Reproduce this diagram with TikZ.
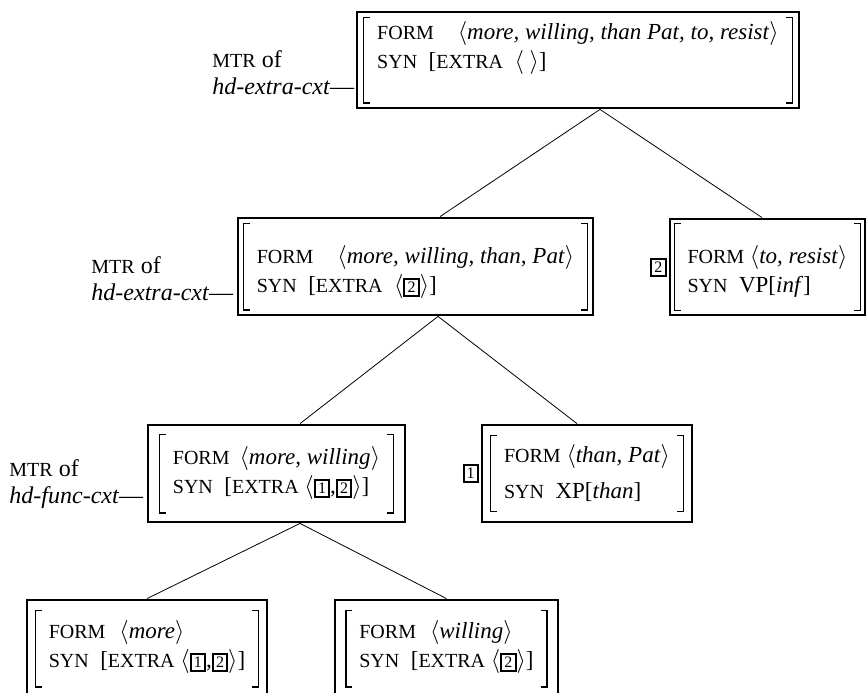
\documentclass[tikz,border=0pt]{standalone}
\usepackage{fontspec}
\setmainfont{Liberation Serif}
\usetikzlibrary{positioning}
\newcommand{\fsc}[1]{{\fontsize{10}{12}\selectfont #1}}
\newcommand{\tagbox}[1]{{\setlength{\fboxsep}{1.1pt}\setlength{\fboxrule}{1pt}\fbox{\fontsize{8}{9}\selectfont #1}}}
\newcommand{\lbrak}[1]{$\vcenter{\hbox{\vrule width 0.6pt height #1\kern-0.6pt%
  \vbox to #1{\hrule width 3.5pt height 0.6pt\vfill\hrule width 3.5pt height 0.6pt}}}$}
\newcommand{\rbrak}[1]{$\vcenter{\hbox{%
  \vbox to #1{\hrule width 3.5pt height 0.6pt\vfill\hrule width 3.5pt height 0.6pt}%
  \kern-0.6pt\vrule width 0.6pt height #1}}$}
\newcommand{\avm}[3]{\lbrak{#1}\hspace{3.5pt}%
  \raisebox{#2}{\begin{tabular}{@{}l@{}}#3\end{tabular}}%
  \hspace{3.5pt}\rbrak{#1}}
\begin{document}
\begin{tikzpicture}[x=0.5pt, y=-0.5pt,
    avmbox/.style={draw, line width=1.4pt, inner sep=0pt, font=\fontsize{11.5}{14.5}\selectfont},
    mtr/.style={anchor=east, inner sep=0pt, align=left, font=\fontsize{12}{13.5}\selectfont}]
  \useasboundingbox (0,0) rectangle (866,692);

  \node[avmbox, minimum width=221pt, minimum height=48pt] (top) at (578,60)
    {\avm{43.5pt}{5.75pt}{\fsc{FORM}\hspace{12pt}$\langle$\textit{more, willing, than Pat, to, resist}$\rangle$\\
      \fsc{SYN}\enskip[\fsc{EXTRA}\enskip$\langle\ \rangle$]}};
  \node[avmbox, minimum width=177.5pt, minimum height=48.5pt] (mid) at (415.5,266.5)
    {\avm{44pt}{-2.75pt}{\fsc{FORM}\hspace{12pt}$\langle$\textit{more, willing, than, Pat}$\rangle$\\
      \fsc{SYN}\enskip[\fsc{EXTRA}\enskip$\langle$\tagbox{2}$\rangle$]}};
  \node[avmbox, minimum width=97.5pt, minimum height=48pt] (inf) at (767.5,267)
    {\avm{44pt}{-2.75pt}{\fsc{FORM} $\langle$\textit{to, resist}$\rangle$\\
      \fsc{SYN}\enskip VP[\textit{inf}]}};
  \node[avmbox, minimum width=128.5pt, minimum height=48.5pt] (func) at (276.5,473.5)
    {\avm{40pt}{0pt}{\fsc{FORM}\hspace{5pt}$\langle$\textit{more, willing}$\rangle$\\
      \fsc{SYN}\enskip[\fsc{EXTRA} $\langle$\tagbox{1},\tagbox{2}$\rangle$]}};
  \node[avmbox, minimum width=105pt, minimum height=48.5pt] (than) at (587,473.5)
    {\avm{38.5pt}{-0.75pt}{\fsc{FORM} $\langle$\textit{than, Pat}$\rangle$\\[3.5pt]
      \fsc{SYN}\enskip XP[\textit{than}]}};
  \node[avmbox, minimum width=120pt, minimum height=48.5pt] (more) at (147,648.5)
    {\avm{39pt}{0.5pt}{\fsc{FORM}\hspace{7pt}$\langle$\textit{more}$\rangle$\\
      \fsc{SYN}\enskip[\fsc{EXTRA} $\langle$\tagbox{1},\tagbox{2}$\rangle$]}};
  \node[avmbox, minimum width=111.5pt, minimum height=48.5pt] (will) at (446.5,648.5)
    {\avm{39pt}{0.5pt}{\fsc{FORM}\hspace{7pt}$\langle$\textit{willing}$\rangle$\\
      \fsc{SYN}\enskip[\fsc{EXTRA} $\langle$\tagbox{2}$\rangle$]}};

  \node[mtr, yshift=-6.5pt] (mtrtop) at ([xshift=-0.5pt]top.west) {\fsc{MTR} of\\\textit{hd-extra-cxt}---};
  \node[mtr, yshift=-6pt] (mtrmid) at ([xshift=-1.5pt]mid.west) {\fsc{MTR} of\\\textit{hd-extra-cxt}---};
  \node[mtr, yshift=-5.5pt] (mtrfunc) at ([xshift=-1.5pt]func.west) {\fsc{MTR} of\\\textit{hd-func-cxt}---};

  \node[inner sep=0pt, left=0.8pt of inf] (tagtwo) {\tagbox{2}};
  \node[inner sep=0pt, left=0.65pt of than] (tagone) {\tagbox{1}};

  \draw ([xshift=11pt]top.south) -- ([xshift=12.25pt]mid.north);
  \draw ([xshift=11pt]top.south) -- ([xshift=-2.75pt]inf.north);
  \draw ([xshift=11.25pt]mid.south) -- ([xshift=11.75pt]func.north);
  \draw ([xshift=11.25pt]mid.south) -- ([xshift=-5pt]than.north);
  \draw ([xshift=11.75pt]func.south) -- (more.north);
  \draw ([xshift=11.75pt]func.south) -- (will.north);
\end{tikzpicture}
\end{document}
